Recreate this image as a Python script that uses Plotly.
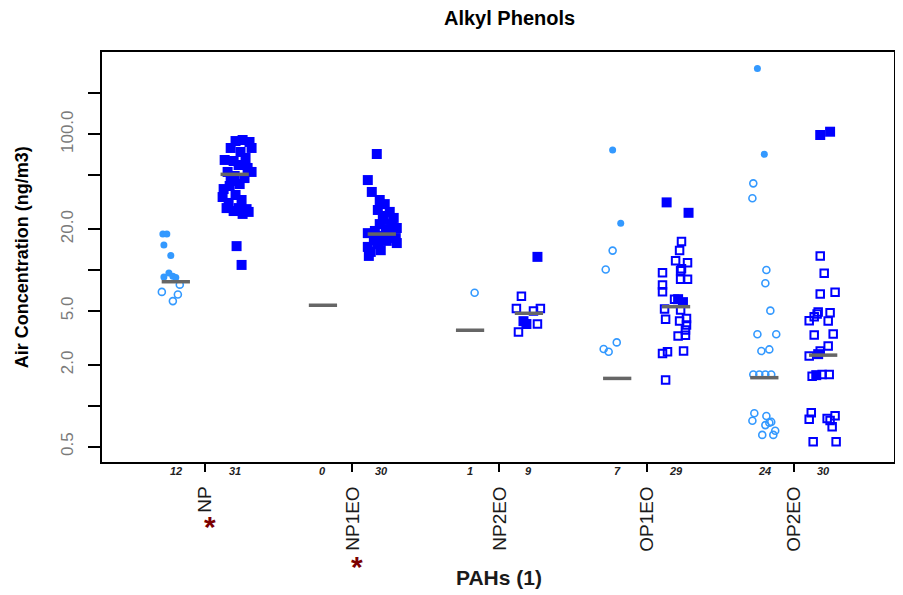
import plotly.graph_objects as go

# ---------------- data ----------------
CATEGORIES = ["NP", "NP1EO", "NP2EO", "OP1EO", "OP2EO"]
COUNT_LEFT = [12, 0, 1, 7, 24]
COUNT_RIGHT = [31, 30, 9, 29, 30]
MEDIAN_LEFT = [8.2, 5.5, 3.6, 1.59, 1.61]
MEDIAN_RIGHT = [50.7, 18.4, 4.8, 5.37, 2.36]
SIGNIFICANT = ["NP", "NP1EO"]

Y_TICK_VALUES = [0.5, 1, 2, 5, 10, 20, 50, 100, 200]
Y_TICK_TEXT = ["0.5", "", "2.0", "5.0", "", "20.0", "", "100.0", ""]

# per group / side: values, kind (F = filled, O = open), jitter offset (category units)
np_left_vals = [18.4, 18.4, 15.3, 12.8, 8.9, 9.5, 9.0, 8.8, 6.9, 7.8, 6.6, 5.9]
np_left_kind = "FFFFFFFFOOOO"
np_left_jit = [-0.288, -0.261, -0.281, -0.234, -0.281, -0.247, -0.220, -0.200,
               -0.295, -0.173, -0.186, -0.220]

np_right_vals = [89.2, 90.8, 87.8, 79.3, 79.3, 74.1, 64.7, 63.6, 66.9, 59.4, 52.8,
                 52.8, 49.3, 47.6, 45.3, 43.0, 39.5, 41.6, 35.7, 34.5, 32.8, 28.6,
                 28.6, 28.1, 25.9, 27.2, 26.8, 31.2, 15.0, 10.9, 56.5]
np_right_kind = "F" * 31
np_right_jit = [0.206, 0.254, 0.301, 0.173, 0.315, 0.240, 0.132, 0.193, 0.274, 0.227,
                0.315, 0.152, 0.200, 0.267, 0.173, 0.234, 0.125, 0.166, 0.206, 0.118,
                0.247, 0.145, 0.227, 0.281, 0.254, 0.193, 0.295, 0.159, 0.213, 0.247,
                0.288]

np1eo_left_vals = []
np1eo_left_kind = ""
np1eo_left_jit = []

np1eo_right_vals = [71.6, 46.0, 37.6, 32.8, 30.6, 27.7, 26.8, 24.2, 25.0, 21.8, 21.8,
                    20.4, 20.0, 19.4, 18.7, 18.7, 17.8, 17.2, 16.6, 16.4, 15.8, 15.5,
                    14.8, 13.6, 14.0, 12.7, 21.1, 23.4, 17.8, 17.5]
np1eo_right_kind = "F" * 30
np1eo_right_jit = [0.166, 0.105, 0.132, 0.186, 0.220, 0.173, 0.254, 0.281, 0.214, 0.268,
                   0.186, 0.302, 0.227, 0.153, 0.105, 0.254, 0.200, 0.295, 0.146, 0.234,
                   0.302, 0.173, 0.105, 0.125, 0.193, 0.112, 0.268, 0.207, 0.241, 0.159]

np2eo_left_vals = [6.8]
np2eo_left_kind = "O"
np2eo_left_jit = [-0.169]

np2eo_right_vals = [12.5, 6.4, 5.2, 5.0, 5.2, 4.2, 4.0, 4.0, 3.5]
np2eo_right_kind = "FOOOOFFOO"
np2eo_right_jit = [0.258, 0.149, 0.115, 0.231, 0.278, 0.163, 0.183, 0.258, 0.129]

op1eo_left_vals = [76.6, 22.1, 13.9, 10.1, 2.93, 2.62, 2.50]
op1eo_left_kind = "FFOOOOO"
op1eo_left_jit = [-0.231, -0.176, -0.231, -0.278, -0.203, -0.292, -0.258]

op1eo_right_vals = [31.5, 26.4, 16.2, 13.9, 11.7, 11.3, 9.55, 9.88, 8.54, 8.54, 7.75,
                    6.92, 6.1, 5.8, 5.16, 5.07, 4.33, 4.21, 3.94, 3.61, 3.27, 3.3, 2.43,
                    2.50, 2.53, 1.55, 6.1, 4.4, 10.2]
op1eo_right_kind = "FF" + "O" * 10 + "FF" + "O" * 15
op1eo_right_jit = [0.136, 0.285, 0.237, 0.224, 0.197, 0.278, 0.108, 0.231, 0.231, 0.278,
                   0.108, 0.108, 0.214, 0.247, 0.122, 0.231, 0.129, 0.224, 0.271, 0.264,
                   0.214, 0.264, 0.108, 0.142, 0.251, 0.129, 0.190, 0.271, 0.237]

op2eo_left_vals = [306, 71.2, 43.5, 33.8, 10.0, 7.98, 5.02, 3.36, 3.36, 2.53, 2.60, 1.70,
                   1.70, 1.70, 1.70, 0.88, 0.775, 0.84, 0.75, 0.72, 0.61, 0.61, 0.655, 0.76]
op2eo_left_kind = "FF" + "O" * 22
op2eo_left_jit = [-0.247, -0.200, -0.275, -0.281, -0.186, -0.193, -0.159, -0.247, -0.119,
                  -0.220, -0.166, -0.275, -0.234, -0.193, -0.153, -0.268, -0.281, -0.186,
                  -0.166, -0.193, -0.214, -0.139, -0.126, -0.153]

op2eo_right_vals = [98.8, 104.5, 12.7, 9.46, 6.66, 6.86, 4.74, 4.53, 4.23, 4.85, 4.21,
                    3.32, 3.38, 2.75, 2.53, 2.33, 1.68, 1.70, 1.70, 0.887, 0.794, 0.807,
                    0.844, 0.70, 0.543, 0.543, 2.40, 1.65, 0.78, 4.9]
op2eo_right_kind = "FF" + "O" * 14 + "F" + "O" * 9 + "F" + "OOO"
op2eo_right_jit = [0.180, 0.247, 0.180, 0.207, 0.180, 0.281, 0.159, 0.139, 0.105, 0.247,
                   0.234, 0.139, 0.268, 0.234, 0.180, 0.105, 0.153, 0.193, 0.241, 0.119,
                   0.105, 0.227, 0.281, 0.261, 0.132, 0.288, 0.166, 0.125, 0.247, 0.166]

LEFT = [(np_left_vals, np_left_kind, np_left_jit),
        (np1eo_left_vals, np1eo_left_kind, np1eo_left_jit),
        (np2eo_left_vals, np2eo_left_kind, np2eo_left_jit),
        (op1eo_left_vals, op1eo_left_kind, op1eo_left_jit),
        (op2eo_left_vals, op2eo_left_kind, op2eo_left_jit)]
RIGHT = [(np_right_vals, np_right_kind, np_right_jit),
         (np1eo_right_vals, np1eo_right_kind, np1eo_right_jit),
         (np2eo_right_vals, np2eo_right_kind, np2eo_right_jit),
         (op1eo_right_vals, op1eo_right_kind, op1eo_right_jit),
         (op2eo_right_vals, op2eo_right_kind, op2eo_right_jit)]

# ---------------- styling ----------------
LIGHT = "#3399FF"
DARK = "#0000FF"
FONT = "Liberation Sans, Arial, sans-serif"
SIDE = 0.2
HALF = 0.096


def collect(groups, kind):
    xs, ys = [], []
    for gi, (vals, kinds, jit) in enumerate(groups):
        for v, k, j in zip(vals, kinds, jit):
            if k == kind:
                xs.append(gi + 1 + j)
                ys.append(v)
    return xs, ys


fig = go.Figure()

x, y = collect(LEFT, "O")
fig.add_trace(go.Scatter(x=x, y=y, mode="markers", hoverinfo="y",
                         marker=dict(symbol="circle-open", size=7, color=LIGHT,
                                     line=dict(width=1.6, color=LIGHT))))
x, y = collect(LEFT, "F")
fig.add_trace(go.Scatter(x=x, y=y, mode="markers", hoverinfo="y",
                         marker=dict(symbol="circle", size=7, color=LIGHT,
                                     line=dict(width=0))))
x, y = collect(RIGHT, "O")
fig.add_trace(go.Scatter(x=x, y=y, mode="markers", hoverinfo="y",
                         marker=dict(symbol="square-open", size=7.5, color=DARK,
                                     line=dict(width=2, color=DARK))))
x, y = collect(RIGHT, "F")
fig.add_trace(go.Scatter(x=x, y=y, mode="markers", hoverinfo="y",
                         marker=dict(symbol="square", size=10, color=DARK,
                                     line=dict(width=0))))

# median bars
mx, my = [], []
for gi in range(len(CATEGORIES)):
    for off, m in ((-SIDE, MEDIAN_LEFT[gi]), (SIDE, MEDIAN_RIGHT[gi])):
        c = gi + 1 + off
        mx += [c - HALF, c + HALF, None]
        my += [m, m, None]
fig.add_trace(go.Scatter(x=mx, y=my, mode="lines", hoverinfo="skip",
                         line=dict(color="#666666", width=3.5)))

annotations = []
for gi, cat in enumerate(CATEGORIES):
    for off, n in ((-SIDE, COUNT_LEFT[gi]), (SIDE, COUNT_RIGHT[gi])):
        annotations.append(dict(x=gi + 1 + off, y=-0.022, xref="x", yref="paper",
                                text=f"<b><i>{n}</i></b>", showarrow=False,
                                xanchor="center", yanchor="middle",
                                font=dict(size=11, color="#222222", family=FONT)))

ast_y = {"NP": -0.157, "NP1EO": -0.2549}
for cat in SIGNIFICANT:
    gi = CATEGORIES.index(cat)
    annotations.append(dict(x=gi + 1.03, y=ast_y[cat], xref="x", yref="paper",
                            text="<b>*</b>", showarrow=False,
                            xanchor="center", yanchor="middle",
                            font=dict(size=30, color="#7B0000", family=FONT)))

annotations.append(dict(x=0.515, y=1.083, xref="paper", yref="paper",
                        text="<b>Alkyl Phenols</b>", showarrow=False,
                        xanchor="center", yanchor="middle",
                        font=dict(size=20, color="black", family=FONT)))
annotations.append(dict(x=-0.1008, y=0.5, xref="paper", yref="paper", textangle=-90,
                        text="<b>Air Concentration (ng/m3)</b>", showarrow=False,
                        xanchor="center", yanchor="middle",
                        font=dict(size=18, color="black", family=FONT)))
annotations.append(dict(x=0.501, y=-0.2805, xref="paper", yref="paper",
                        text="<b>PAHs (1)</b>", showarrow=False,
                        xanchor="center", yanchor="middle",
                        font=dict(size=21, color="#1a1a1a", family=FONT)))

# the page body adds an 8px offset, so the figure is 8px smaller each way
fig.update_layout(
    width=895, height=587,
    margin=dict(l=94, r=7, t=44, b=133),
    paper_bgcolor="white", plot_bgcolor="white",
    showlegend=False,
    font=dict(family=FONT),
    annotations=annotations,
)
fig.update_xaxes(
    range=[0.2983, 5.6814],
    tickmode="array", tickvals=[1, 2, 3, 4, 5], ticktext=CATEGORIES,
    tickangle=-90, ticks="outside", ticklen=8, tickwidth=1.5, tickcolor="black",
    ticklabelstandoff=7,
    tickfont=dict(size=19, color="#1a1a1a", family=FONT),
    showgrid=False, zeroline=False,
    showline=True, mirror=True, linecolor="black", linewidth=1.5,
)
fig.update_yaxes(
    type="log", range=[-0.4145, 2.6064],
    tickmode="array", tickvals=Y_TICK_VALUES, ticktext=Y_TICK_TEXT,
    tickangle=-90, ticks="outside", ticklen=12, tickwidth=1.5, tickcolor="black",
    ticklabelstandoff=8,
    tickfont=dict(size=17, color="#7a7a7a", family=FONT),
    showgrid=False, zeroline=False,
    showline=True, mirror=True, linecolor="black", linewidth=1.5,
)

fig.write_html("out.html")
